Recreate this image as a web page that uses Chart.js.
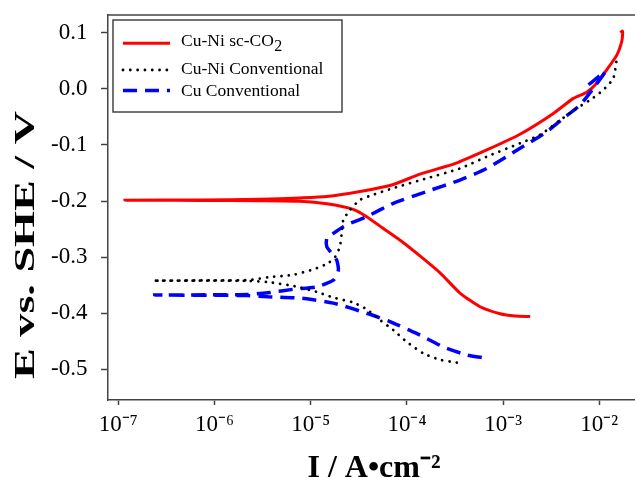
<!DOCTYPE html>
<html><head><meta charset="utf-8">
<script src="https://cdn.jsdelivr.net/npm/chart.js@4.4.0/dist/chart.umd.min.js"></script>
<style>html,body{margin:0;padding:0;overflow:hidden;background:#fff}#wrap{width:640px;height:478px;position:relative}</style>
</head><body><div id="wrap"><canvas id="c"></canvas></div>
<script>
// ---- data ----
const seriesLabels = ['Cu-Ni sc-CO2', 'Cu-Ni Conventional', 'Cu Conventional'];

const cuNiScCO2_I = [1.91e-3, 1.33e-3, 9.3e-4, 5.7e-4, 3.56e-4, 2.21e-4, 1.26e-4, 8.5e-5, 5.69e-5, 3.82e-5, 2.77e-5, 1.47e-5, 7.74e-6, 3.0e-6, 7.1e-7, 1.17e-7, 7.1e-7, 2.97e-6, 7.74e-6, 1.47e-5, 3.25e-5, 7.22e-5, 1.37e-4, 3.2e-4, 6.76e-4, 1.50e-3, 3.33e-3, 5.37e-3, 7.40e-3, 9.40e-3, 1.19e-2, 1.52e-2, 1.71e-2, 1.75e-2, 1.73e-2, 1.66e-2];
const cuNiScCO2_E = [-0.406, -0.405, -0.401, -0.388, -0.364, -0.328, -0.293, -0.270, -0.249, -0.228, -0.215, -0.205, -0.2005, -0.1995, -0.199, -0.1985, -0.198, -0.197, -0.1945, -0.192, -0.183, -0.1705, -0.152, -0.133, -0.109, -0.081, -0.044, -0.017, -0.006, 0.010, 0.0335, 0.060, 0.084, 0.099, 0.103, 0.100];

const cuNiConv_I = [3.30e-4, 2.21e-4, 1.48e-4, 9.95e-5, 7.22e-5, 5.25e-5, 3.82e-5, 2.77e-5, 1.72e-5, 1.15e-5, 6.83e-6, 3.60e-6, 2.23e-6, 1.0e-6, 2.30e-7, 1.0e-6, 2.23e-6, 3.60e-6, 6.83e-6, 1.10e-5, 1.51e-5, 1.79e-5, 2.01e-5, 2.10e-5, 2.18e-5, 2.56e-5, 3.25e-5, 4.6e-5, 7.22e-5, 1.61e-4, 3.56e-4, 6.76e-4, 1.50e-3, 2.42e-3, 3.91e-3, 5.82e-3, 8.0e-3, 1.10e-2, 1.40e-2, 1.52e-2];
const cuNiConv_E = [-0.488, -0.483, -0.4715, -0.451, -0.430, -0.412, -0.393, -0.381, -0.372, -0.362, -0.352, -0.3445, -0.3425, -0.342, -0.342, -0.3415, -0.341, -0.336, -0.331, -0.321, -0.311, -0.300, -0.2815, -0.258, -0.234, -0.216, -0.198, -0.188, -0.177, -0.1595, -0.142, -0.121, -0.097, -0.082, -0.056, -0.035, -0.020, -0.002, 0.019, 0.054];

const cuConv_I = [6.0e-4, 4.19e-4, 2.39e-4, 1.26e-4, 6.67e-5, 3.82e-5, 1.72e-5, 7.74e-6, 3.60e-6, 2.23e-6, 1.0e-6, 2.39e-7, 1.0e-6, 2.23e-6, 3.60e-6, 6.83e-6, 1.15e-5, 1.72e-5, 1.94e-5, 1.86e-5, 1.65e-5, 1.47e-5, 1.47e-5, 1.72e-5, 2.18e-5, 2.56e-5, 3.82e-5, 7.22e-5, 1.61e-4, 3.56e-4, 6.76e-4, 1.50e-3, 2.84e-3, 4.23e-3, 6.30e-3, 8.67e-3, 1.15e-2, 9.4e-3, 7.69e-3];
const cuConv_E = [-0.479, -0.4745, -0.460, -0.436, -0.415, -0.400, -0.382, -0.373, -0.3706, -0.3685, -0.368, -0.3676, -0.3672, -0.3667, -0.3635, -0.357, -0.353, -0.341, -0.323, -0.305, -0.293, -0.2815, -0.2665, -0.2576, -0.2458, -0.240, -0.228, -0.204, -0.183, -0.1626, -0.142, -0.106, -0.0765, -0.0526, -0.029, 0.001, 0.0305, 0.019, 0.007];

const xTickValues = [1e-7, 1e-6, 1e-5, 1e-4, 1e-3, 1e-2];
const xTickLabels = ['10\u207B\u2077', '10\u207B\u2076', '10\u207B\u2075', '10\u207B\u2074', '10\u207B\u00B3', '10\u207B\u00B2'];
const yTickValues = [-0.5, -0.4, -0.3, -0.2, -0.1, 0.0, 0.1];
const yTickLabels = ['-0.5', '-0.4', '-0.3', '-0.2', '-0.1', '0.0', '0.1'];
const xTitle = 'I / A\u2022cm\u207B\u00B2';
const yTitle = 'E vs. SHE / V';

// ---- chart ----
const FONT = 'Liberation Serif';
const pts = (xs, ys) => xs.map((x, i) => ({ x: x, y: ys[i] }));

const framePlugin = {
  id: 'frame',
  afterDraw(chart) {
    const { ctx, chartArea: a } = chart;
    ctx.save();
    ctx.strokeStyle = '#444';
    ctx.lineWidth = 1.5;
    ctx.beginPath();
    ctx.moveTo(a.left, a.top); ctx.lineTo(a.right, a.top); ctx.lineTo(a.right, a.bottom);
    ctx.stroke();
    ctx.restore();
  }
};

const yTitlePlugin = {
  id: 'ytitle',
  afterDraw(chart) {
    const ctx = chart.ctx;
    ctx.save();
    ctx.font = 'bold 30px "' + FONT + '"';
    const w = ctx.measureText(yTitle).width;
    const target = 268;
    ctx.translate(26, 245);
    ctx.rotate(-Math.PI / 2);
    ctx.scale(target / w, 1);
    ctx.fillStyle = '#000';
    ctx.textAlign = 'center';
    ctx.textBaseline = 'middle';
    ctx.fillText(yTitle, 0, 0);
    ctx.restore();
  }
};

const legendPlugin = {
  id: 'boxLegend',
  afterDraw(chart) {
    const ctx = chart.ctx;
    const box = { x: 113, y: 20, w: 229, h: 92 };
    const lineY = [43.3, 70, 90.5];
    const textY = [41.5, 69.5, 91];
    ctx.save();
    ctx.strokeStyle = '#444';
    ctx.lineWidth = 1.5;
    ctx.strokeRect(box.x, box.y, box.w, box.h);
    chart.data.datasets.forEach((ds, i) => {
      ctx.save();
      ctx.strokeStyle = ds.borderColor;
      ctx.lineWidth = ds.borderWidth;
      ctx.lineCap = ds.borderCapStyle || 'butt';
      ctx.setLineDash(ds.borderDash || []);
      ctx.beginPath();
      ctx.moveTo(123, lineY[i]); ctx.lineTo(170, lineY[i]);
      ctx.stroke();
      ctx.restore();
      ctx.fillStyle = '#000';
      ctx.textAlign = 'left';
      ctx.textBaseline = 'middle';
      ctx.font = '17.5px "' + FONT + '"';
      const lbl = ds.label;
      const m = /^(.*CO)2$/.exec(lbl);
      if (m) {
        ctx.fillText(m[1], 181, textY[i]);
        const w = ctx.measureText(m[1]).width;
        ctx.font = '16px "' + FONT + '"';
        ctx.fillText('2', 181 + w + 0.5, textY[i] + 5.5);
      } else {
        ctx.fillText(lbl, 181, textY[i]);
      }
    });
    ctx.restore();
  }
};

Chart.defaults.font.family = FONT;
Chart.defaults.color = '#000';

new Chart(document.getElementById('c'), {
  type: 'scatter',
  data: {
    datasets: [
      { label: seriesLabels[0], data: pts(cuNiScCO2_I, cuNiScCO2_E), showLine: true, borderColor: '#ff0000', borderWidth: 3, pointRadius: 0, tension: 0.2, order: 3 },
      { label: seriesLabels[1], data: pts(cuNiConv_I, cuNiConv_E), showLine: true, borderColor: '#000000', borderWidth: 2.8, borderDash: [0.01, 7.3], borderCapStyle: 'round', pointRadius: 0, tension: 0.2, order: 1 },
      { label: seriesLabels[2], data: pts(cuConv_I, cuConv_E), showLine: true, borderColor: '#0000ff', borderWidth: 3.5, borderDash: [14, 8], pointRadius: 0, tension: 0.2, order: 2 }
    ]
  },
  options: {
    responsive: true,
    maintainAspectRatio: false,
    animation: false,
    layout: { padding: { top: 15, left: 0, right: 0, bottom: 0 } },
    plugins: { legend: { display: false }, tooltip: { enabled: false } },
    scales: {
      x: {
        type: 'logarithmic',
        min: Math.pow(10, -7.107),
        max: Math.pow(10, -1.577),
        afterBuildTicks: s => { s.ticks = xTickValues.map(v => ({ value: v })); },
        afterFit: s => { s.height = 78; s.paddingLeft = 0; s.paddingRight = 0; },
        ticks: {
          autoSkip: false, maxRotation: 0,
          font: { size: 23 }, padding: 6,
          callback: (v, i) => xTickLabels[i]
        },
        grid: { display: true, drawOnChartArea: false, drawTicks: true, tickLength: 5, tickColor: '#444', tickWidth: 1.5 },
        border: { display: true, color: '#444', width: 1.5 },
        title: { display: true, text: xTitle, font: { size: 32, weight: 'bold', lineHeight: '18px' }, padding: { top: 0, bottom: 0 } }
      },
      y: {
        type: 'linear',
        min: -0.5547,
        max: 0.1316,
        afterBuildTicks: s => { s.ticks = yTickValues.map(v => ({ value: v })); },
        afterFit: s => { s.width = 108; s.paddingTop = 0; s.paddingBottom = 0; },
        ticks: {
          autoSkip: false,
          font: { size: 23 }, padding: 13.5,
          callback: (v, i) => yTickLabels[i]
        },
        grid: { display: true, drawOnChartArea: false, drawTicks: true, tickLength: 7, tickColor: '#444', tickWidth: 1.5 },
        border: { display: true, color: '#444', width: 1.5 },
        title: { display: false }
      }
    }
  },
  plugins: [framePlugin, yTitlePlugin, legendPlugin]
});
</script>
</body></html>
